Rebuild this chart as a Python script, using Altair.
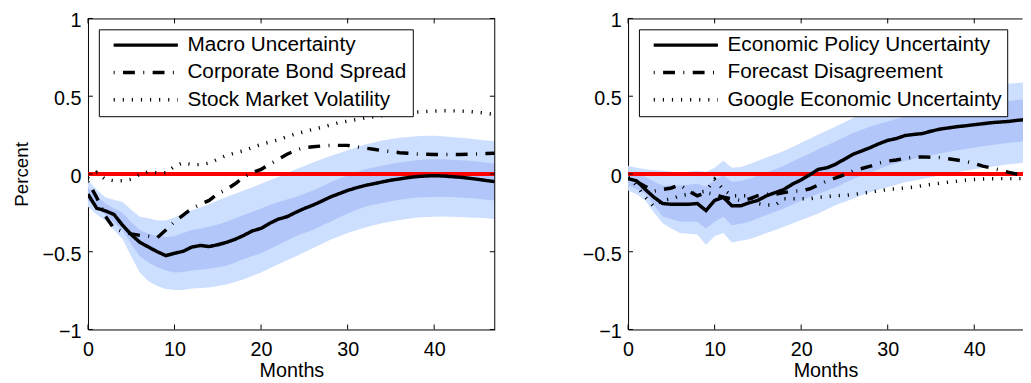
import altair as alt
import pandas as pd

months = list(range(48))

# ---------------- Left panel ----------------
macro_uncertainty = [-0.13, -0.22, -0.237, -0.26, -0.33, -0.39, -0.44, -0.47, -0.50, -0.525,
                     -0.51, -0.497, -0.47, -0.46, -0.467, -0.455, -0.44, -0.42, -0.395, -0.366,
                     -0.35, -0.317, -0.29, -0.275, -0.247, -0.222, -0.20, -0.175, -0.148, -0.127,
                     -0.106, -0.089, -0.074, -0.063, -0.051, -0.04, -0.032, -0.023, -0.017, -0.013,
                     -0.011, -0.013, -0.017, -0.021, -0.027, -0.034, -0.042, -0.049]
corporate_bond_spread = [-0.05, -0.15, -0.27, -0.35, -0.37, -0.385, -0.395, -0.40, -0.41, -0.36,
                         -0.307, -0.264, -0.222, -0.195, -0.17, -0.127, -0.10, -0.063, -0.02, 0.01,
                         0.03, 0.063, 0.095, 0.127, 0.152, 0.17, 0.175, 0.18, 0.184, 0.184,
                         0.184, 0.175, 0.167, 0.159, 0.15, 0.144, 0.137, 0.133, 0.129, 0.127,
                         0.125, 0.125, 0.125, 0.125, 0.127, 0.129, 0.131, 0.133]
stock_market_volatility = [-0.02, 0.01, -0.034, -0.044, -0.044, -0.034, -0.002, 0.015, 0.008, 0.008,
                           0.05, 0.072, 0.06, 0.06, 0.07, 0.095, 0.12, 0.135, 0.15, 0.17,
                           0.19, 0.205, 0.22, 0.24, 0.258, 0.272, 0.287, 0.30, 0.315, 0.33,
                           0.34, 0.35, 0.36, 0.368, 0.375, 0.382, 0.388, 0.393, 0.398, 0.402,
                           0.405, 0.406, 0.406, 0.405, 0.402, 0.397, 0.39, 0.382]
left_light_hi = [-0.04, -0.10, -0.15, -0.165, -0.18, -0.23, -0.275, -0.285, -0.30, -0.30,
                 -0.28, -0.255, -0.233, -0.215, -0.195, -0.17, -0.148, -0.127, -0.106, -0.085,
                 -0.063, -0.04, -0.02, 0.005, 0.03, 0.052, 0.074, 0.095, 0.116, 0.134,
                 0.152, 0.17, 0.19, 0.203, 0.216, 0.225, 0.233, 0.238, 0.243, 0.245,
                 0.245, 0.242, 0.238, 0.233, 0.228, 0.222, 0.216, 0.21]
left_light_lo = [-0.21, -0.26, -0.30, -0.36, -0.42, -0.53, -0.635, -0.69, -0.72, -0.74,
                 -0.746, -0.746, -0.736, -0.733, -0.73, -0.72, -0.71, -0.695, -0.677, -0.656,
                 -0.634, -0.607, -0.58, -0.555, -0.53, -0.503, -0.476, -0.45, -0.423, -0.40,
                 -0.38, -0.362, -0.345, -0.33, -0.317, -0.306, -0.296, -0.288, -0.28, -0.277,
                 -0.275, -0.274, -0.275, -0.277, -0.28, -0.282, -0.285, -0.29]
left_dark_hi = [-0.085, -0.14, -0.19, -0.22, -0.25, -0.31, -0.36, -0.385, -0.40, -0.405,
                -0.40, -0.38, -0.36, -0.35, -0.34, -0.325, -0.307, -0.285, -0.264, -0.243,
                -0.222, -0.20, -0.18, -0.164, -0.148, -0.127, -0.106, -0.08, -0.053, -0.03,
                -0.01, 0.01, 0.03, 0.042, 0.053, 0.064, 0.074, 0.082, 0.089, 0.093,
                0.095, 0.094, 0.091, 0.088, 0.085, 0.08, 0.074, 0.068]
left_dark_lo = [-0.17, -0.215, -0.26, -0.31, -0.36, -0.45, -0.53, -0.57, -0.60, -0.62,
                -0.634, -0.63, -0.62, -0.615, -0.61, -0.60, -0.59, -0.57, -0.546, -0.528,
                -0.51, -0.483, -0.455, -0.428, -0.40, -0.38, -0.36, -0.333, -0.307, -0.28,
                -0.254, -0.232, -0.21, -0.198, -0.186, -0.175, -0.165, -0.158, -0.152, -0.15,
                -0.148, -0.148, -0.148, -0.151, -0.154, -0.16, -0.165, -0.17]

# ---------------- Right panel ----------------
economic_policy_uncertainty = [-0.03, -0.045, -0.10, -0.15, -0.19, -0.195, -0.195, -0.195, -0.19, -0.235,
                               -0.17, -0.15, -0.205, -0.205, -0.185, -0.17, -0.14, -0.12, -0.10, -0.065,
                               -0.038, -0.005, 0.03, 0.04, 0.063, 0.095, 0.127, 0.148, 0.17, 0.195,
                               0.216, 0.228, 0.247, 0.254, 0.26, 0.275, 0.288, 0.296, 0.304, 0.31,
                               0.317, 0.323, 0.33, 0.334, 0.338, 0.345, 0.35, 0.353]
forecast_disagreement = [-0.03, -0.05, -0.08, -0.11, -0.10, -0.09, -0.07, -0.11, -0.14, -0.12,
                         -0.13, -0.15, -0.16, -0.17, -0.16, -0.14, -0.13, -0.13, -0.12, -0.11,
                         -0.11, -0.095, -0.07, -0.045, -0.025, -0.005, 0.02, 0.035, 0.05, 0.07,
                         0.083, 0.09, 0.10, 0.108, 0.11, 0.108, 0.105, 0.098, 0.09, 0.08,
                         0.068, 0.05, 0.038, 0.025, 0.01, -0.002, -0.008, -0.012]
google_economic_uncertainty = [-0.02, -0.076, -0.15, -0.21, -0.17, -0.16, -0.14, -0.13, -0.12, -0.11,
                               -0.034, -0.10, -0.14, -0.14, -0.14, -0.19, -0.20, -0.20, -0.16, -0.16,
                               -0.16, -0.16, -0.15, -0.145, -0.14, -0.138, -0.132, -0.125, -0.116, -0.108,
                               -0.10, -0.095, -0.09, -0.085, -0.075, -0.067, -0.06, -0.053, -0.047, -0.04,
                               -0.036, -0.033, -0.031, -0.03, -0.03, -0.03, -0.03, -0.03]
right_light_hi = [0.053, 0.04, 0.03, 0.025, 0.02, 0.015, 0.01, 0.015, 0.02, 0.012,
                  0.04, 0.085, 0.04, 0.045, 0.063, 0.085, 0.106, 0.127, 0.148, 0.174,
                  0.20, 0.227, 0.254, 0.28, 0.306, 0.333, 0.36, 0.38, 0.40, 0.417,
                  0.433, 0.45, 0.465, 0.475, 0.486, 0.497, 0.507, 0.518, 0.53, 0.54,
                  0.55, 0.558, 0.567, 0.573, 0.58, 0.585, 0.59, 0.596]
right_light_lo = [-0.106, -0.13, -0.17, -0.25, -0.317, -0.35, -0.38, -0.385, -0.39, -0.455,
                  -0.40, -0.38, -0.44, -0.43, -0.42, -0.40, -0.38, -0.36, -0.34, -0.318,
                  -0.296, -0.275, -0.254, -0.227, -0.20, -0.18, -0.159, -0.137, -0.116, -0.10,
                  -0.085, -0.069, -0.053, -0.043, -0.032, -0.021, -0.01, 0.0, 0.01, 0.02,
                  0.03, 0.038, 0.046, 0.055, 0.063, 0.068, 0.074, 0.078]
right_dark_hi = [0.02, 0.0, -0.02, -0.05, -0.074, -0.075, -0.074, -0.07, -0.063, -0.08,
                 -0.04, -0.01, -0.05, -0.045, -0.03, -0.01, 0.01, 0.03, 0.053, 0.08,
                 0.106, 0.132, 0.159, 0.185, 0.21, 0.237, 0.264, 0.285, 0.306, 0.322,
                 0.338, 0.354, 0.37, 0.378, 0.387, 0.398, 0.408, 0.418, 0.427, 0.436,
                 0.444, 0.452, 0.459, 0.465, 0.47, 0.475, 0.48, 0.486]
right_dark_lo = [-0.074, -0.10, -0.127, -0.20, -0.275, -0.29, -0.307, -0.307, -0.307, -0.35,
                 -0.307, -0.275, -0.33, -0.32, -0.307, -0.285, -0.264, -0.243, -0.222, -0.196,
                 -0.17, -0.148, -0.127, -0.106, -0.085, -0.058, -0.032, -0.011, 0.01, 0.032,
                 0.053, 0.069, 0.085, 0.098, 0.11, 0.12, 0.131, 0.142, 0.152, 0.161,
                 0.17, 0.178, 0.186, 0.193, 0.20, 0.205, 0.21, 0.216]

left_names = ["Macro Uncertainty", "Corporate Bond Spread", "Stock Market Volatility"]
right_names = ["Economic Policy Uncertainty", "Forecast Disagreement", "Google Economic Uncertainty"]
x_ticks = [0, 10, 20, 30, 40]
y_ticks = [-1, -0.5, 0, 0.5, 1]
zero_line = [0]

# ---------------- Styling ----------------
FONT = "Liberation Sans"
LIGHT = "#cddffe"
DARK = "#b2c6fa"
DASHES = [[1, 0], [1, 8.5, 12, 8.5], [1.2, 8]]
H = 315
W_LEFT = 412
W_RIGHT = 400
PX_PER_MONTH = W_LEFT / 47.0
TICK = 5


def panel(names, series, band, width, full_frame, y_title):
    xs = alt.Scale(domain=[0, width / PX_PER_MONTH], nice=False, zero=False)
    ys = alt.Scale(domain=[-1, 1], nice=False, zero=False)
    x_axis = alt.Axis(values=x_ticks, format="d", ticks=False, grid=False,
                      domainColor="black", domainWidth=1,
                      labelFont=FONT, labelFontSize=20, labelColor="black",
                      labelPadding=10, labelFlush=False, labelOverlap=False,
                      title="Months", titleFont=FONT, titleFontSize=20,
                      titleFontWeight="normal", titleColor="black", titlePadding=1.5)
    y_kw = dict(values=y_ticks, format="~g", ticks=False, grid=False,
                domainColor="black", domainWidth=1,
                labelFont=FONT, labelFontSize=20, labelColor="black",
                labelPadding=7, labelOffset=2.5, labelFlush=False, labelOverlap=False)
    if y_title:
        y_kw.update(title=y_title, titleFont=FONT, titleFontSize=19,
                    titleFontWeight="normal", titleColor="black", titlePadding=11)
    else:
        y_kw.update(title=None)
    y_axis = alt.Axis(**y_kw)

    def X(field):
        return alt.X(field, scale=xs, axis=x_axis)

    def Y(field):
        return alt.Y(field, scale=ys, axis=y_axis)

    band_df = pd.DataFrame({"month": months, "light_lo": band[0], "light_hi": band[1],
                            "dark_lo": band[2], "dark_hi": band[3]})
    rows = []
    for name, vals in zip(names, series):
        for m, v in zip(months, vals):
            rows.append({"month": m, "value": v, "series": name})
    line_df = pd.DataFrame(rows)

    light = alt.Chart(band_df).mark_area(color=LIGHT, opacity=1, clip=True).encode(
        x=X("month:Q"), y=Y("light_lo:Q"), y2="light_hi:Q")
    dark = alt.Chart(band_df).mark_area(color=DARK, opacity=1, clip=True).encode(
        x=X("month:Q"), y=Y("dark_lo:Q"), y2="dark_hi:Q")
    zero = alt.Chart(pd.DataFrame({"value": zero_line})).mark_rule(
        color="#ff0000", strokeWidth=4, clip=True).encode(y=Y("value:Q"))

    legend = alt.Legend(title=None, orient="top-left", offset=11,
                        fillColor="white", strokeColor="black", padding=5.5,
                        symbolType="stroke", symbolSize=65 * 65, symbolStrokeWidth=3.5,
                        symbolStrokeColor="black", symbolOffset=7.5, clipHeight=21,
                        labelFont=FONT, labelFontSize=21, labelColor="black",
                        labelOffset=7.7, labelLimit=500, rowPadding=5.7)
    lines = alt.Chart(line_df).mark_line(color="black", strokeWidth=3.5, clip=True).encode(
        x=X("month:Q"), y=Y("value:Q"),
        strokeDash=alt.StrokeDash("series:N", sort=names,
                                  scale=alt.Scale(domain=names, range=DASHES),
                                  legend=legend))

    one = pd.DataFrame({"k": [0]})
    layers = [light, dark, zero, lines]
    top_end = width if full_frame else width - 0.5
    layers.append(alt.Chart(one).mark_rule(color="black", strokeWidth=1).encode(
        x=alt.value(0), x2=alt.value(top_end), y=alt.value(0.5)))
    if full_frame:
        layers.append(alt.Chart(one).mark_rule(color="black", strokeWidth=1).encode(
            x=alt.value(width), y=alt.value(0), y2=alt.value(H)))

    xt = pd.DataFrame({"month": x_ticks})
    yt = pd.DataFrame({"value": y_ticks})
    layers.append(alt.Chart(xt).mark_rule(color="black", strokeWidth=1).encode(
        x=X("month:Q"), y=alt.value(H), y2=alt.value(H - TICK)))
    layers.append(alt.Chart(xt).mark_rule(color="black", strokeWidth=1).encode(
        x=X("month:Q"), y=alt.value(0), y2=alt.value(TICK)))
    layers.append(alt.Chart(yt).mark_rule(color="black", strokeWidth=1).encode(
        y=Y("value:Q"), x=alt.value(0), x2=alt.value(TICK)))
    if full_frame:
        layers.append(alt.Chart(yt).mark_rule(color="black", strokeWidth=1).encode(
            y=Y("value:Q"), x=alt.value(width), x2=alt.value(width - TICK)))

    return alt.layer(*layers).properties(width=width, height=H)


left = panel(left_names,
             [macro_uncertainty, corporate_bond_spread, stock_market_volatility],
             [left_light_lo, left_light_hi, left_dark_lo, left_dark_hi],
             W_LEFT, True, "Percent")
right = panel(right_names,
              [economic_policy_uncertainty, forecast_disagreement, google_economic_uncertainty],
              [right_light_lo, right_light_hi, right_dark_lo, right_dark_hi],
              W_RIGHT, False, None)

chart = alt.hconcat(left, right, spacing=87).resolve_scale(
    x="independent", y="independent", strokeDash="independent"
).resolve_legend(strokeDash="independent").configure_view(stroke=None).properties(
    padding={"left": 4, "top": 0.2, "right": 0, "bottom": 0},
    background="white")

chart.save("out.html", embed_options={"renderer": "svg", "actions": False})
